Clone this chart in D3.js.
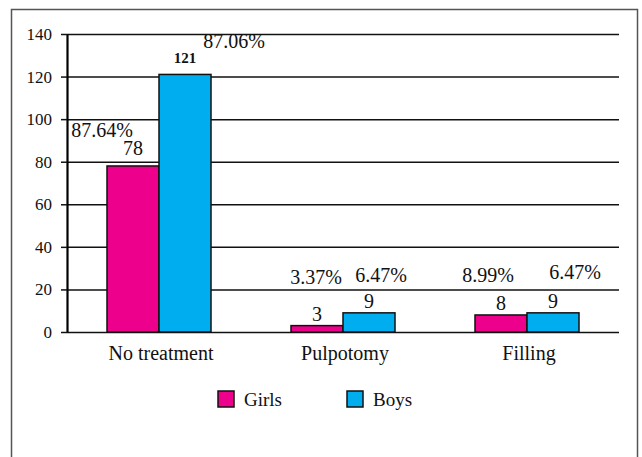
<!DOCTYPE html>
<html>
<head>
<meta charset="utf-8">
<script src="https://cdn.jsdelivr.net/npm/d3@7"></script>
<style>
  html, body { margin: 0; padding: 0; background: #fff; }
  svg { display: block; }
</style>
</head>
<body>
<svg id="chart" width="642" height="457" font-family="Liberation Serif"></svg>
<script>
// ---- data ----
const categories = ["No treatment", "Pulpotomy", "Filling"];
const series = ["Girls", "Boys"];
const girls = [78, 3, 8];
const boys = [121, 9, 9];
const girlsPct = ["87.64%", "3.37%", "8.99%"];
const boysPct = ["87.06%", "6.47%", "6.47%"];
const yTicks = [0, 20, 40, 60, 80, 100, 120, 140];
const colors = { Girls: "#EC008C", Boys: "#00AEEF" };

// ---- layout (offsets of percentage labels relative to bar top/centre) ----
const pctOffsetGirls = [[-31, 29], [-1, 42], [-13, 33]];
const pctOffsetBoys = [[49, 26], [12, 31], [22, 34]];
const valueGap = [11, 5, 5];
const FONT = "Liberation Serif";

const svg = d3.select("#chart");
const M = { left: 67, right: 619, top: 34, bottom: 332 };

// outer frame (bottom edge lies outside the picture)
svg.append("rect")
  .attr("x", 11.5).attr("y", 9.5).attr("width", 626).attr("height", 470)
  .attr("fill", "none").attr("stroke", "#555").attr("stroke-width", 1.5);

const x = d3.scaleBand().domain(categories).range([M.left, M.right]).padding(0);
const step = x.bandwidth();
const barW = 52;
const xs = d3.scaleBand().domain(series).range([step / 2 - barW, step / 2 + barW]).padding(0);
const y = d3.scaleLinear().domain([0, 140]).range([M.bottom, M.top]);

// gridlines
const grid = svg.append("g").attr("transform", `translate(${M.left},0)`)
  .call(d3.axisLeft(y).tickValues(yTicks).tickSize(-(M.right - M.left)).tickFormat(""));
grid.select(".domain").remove();
grid.selectAll(".tick line").attr("stroke", "#111").attr("stroke-width", 1.5);

// left axis with outer ticks and labels
const ax = svg.append("g").attr("transform", `translate(${M.left},0)`)
  .call(d3.axisLeft(y).tickValues(yTicks).tickSize(6).tickPadding(9).tickSizeOuter(0));
ax.attr("font-family", FONT).attr("font-size", 17);
ax.select(".domain").attr("stroke", "#000").attr("stroke-width", 2.2);
ax.selectAll(".tick line").attr("stroke", "#111").attr("stroke-width", 1.5);
ax.selectAll(".tick text").attr("font-family", FONT).attr("font-size", 17).attr("fill", "#111");

// bars
const rows = categories.map((c, i) => ({
  cat: c, i,
  vals: [
    { s: "Girls", v: girls[i], pct: girlsPct[i], off: pctOffsetGirls[i] },
    { s: "Boys", v: boys[i], pct: boysPct[i], off: pctOffsetBoys[i] }
  ]
}));

const gCat = svg.selectAll(".cat").data(rows).join("g")
  .attr("class", "cat")
  .attr("transform", d => `translate(${x(d.cat)},0)`);

gCat.selectAll("rect").data(d => d.vals).join("rect")
  .attr("x", d => xs(d.s))
  .attr("y", d => y(d.v))
  .attr("width", xs.bandwidth())
  .attr("height", d => y(0) - y(d.v))
  .attr("fill", d => colors[d.s])
  .attr("stroke", "#111").attr("stroke-width", 1.5);

// value labels
gCat.each(function (d) {
  const g = d3.select(this);
  d.vals.forEach(v => {
    g.append("text")
      .attr("x", xs(v.s) + xs.bandwidth() / 2)
      .attr("y", y(v.v) - valueGap[d.i])
      .attr("text-anchor", "middle")
      .attr("font-family", FONT)
      .attr("font-size", v.v >= 100 ? 15 : 20)
      .attr("font-weight", v.v >= 100 ? "bold" : "normal")
      .attr("fill", "#111")
      .text(v.v);
    g.append("text")
      .attr("x", xs(v.s) + xs.bandwidth() / 2 + v.off[0])
      .attr("y", y(v.v) - v.off[1])
      .attr("text-anchor", "middle")
      .attr("font-family", FONT)
      .attr("font-size", 20)
      .attr("fill", "#111")
      .text(v.pct);
  });
});

// category labels
svg.append("g").selectAll("text").data(categories).join("text")
  .attr("x", d => x(d) + step / 2 + 2)
  .attr("y", M.bottom + 28)
  .attr("text-anchor", "middle")
  .attr("font-family", FONT)
  .attr("font-size", 20)
  .attr("fill", "#111")
  .text(d => d);

// legend
const legend = svg.append("g").attr("transform", "translate(218,391)");
const legX = d3.scalePoint().domain(series).range([0, 129]);
const li = legend.selectAll("g").data(series).join("g")
  .attr("transform", d => `translate(${legX(d)},0)`);
li.append("rect").attr("width", 16).attr("height", 16)
  .attr("fill", d => colors[d]).attr("stroke", "#111").attr("stroke-width", 1.5);
li.append("text").attr("x", 26).attr("y", 15)
  .attr("font-family", FONT).attr("font-size", 19)
  .attr("fill", "#111").text(d => d);
</script>
</body>
</html>
